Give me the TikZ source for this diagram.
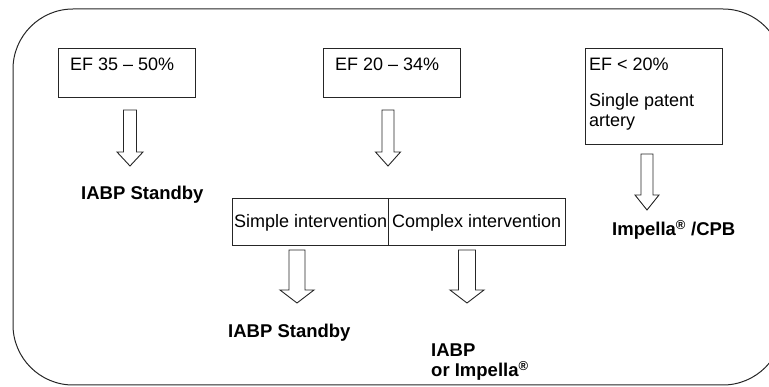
\documentclass[tikz,border=0pt]{standalone}
\usepackage{fontspec}
\setmainfont{Liberation Sans}
\begin{document}
\begin{tikzpicture}[x=1pt,y=-1pt,
  frame/.style={draw=black!85,line width=1pt},
  boxline/.style={draw=black!85,line width=0.9pt},
  txt/.style={anchor=base west,inner sep=0pt,font=\fontsize{18}{20}\selectfont},
  btxt/.style={anchor=base west,inner sep=0pt,font=\fontsize{18.5}{20}\selectfont\bfseries},
  blockarrow/.style={draw=black!85,line width=0.9pt,fill=white,line join=miter}]
\useasboundingbox (0,0) rectangle (769,387);
% outer frame with quarter-circle corners, its right side running past the page edge
\begin{scope}
\clip (0,0) rectangle (769,387);
\draw[frame] (13,69) .. controls (13,36) and (40,9) .. (73,9)
  -- (723,9) .. controls (756,9) and (783,36) .. (783,69)
  -- (783,325) .. controls (783,358) and (756,385) .. (723,385)
  -- (73,385) .. controls (40,385) and (13,358) .. (13,325) -- cycle;
\end{scope}

% ejection fraction boxes
\draw[boxline] (58,48) rectangle (195,97);
\node[txt] (ef1) at (70,71) {EF 35 -- 50\%};
\draw[boxline] (323,48) rectangle (460,97);
\node[txt] (ef2) at (335,71) {EF 20 -- 34\%};
\draw[boxline] (585,48) rectangle (722,144);
\node[txt] (ef3) at (589,71) {EF < 20\%};
\node[txt] (sp) at (589,107) {Single patent};
\node[txt] (ar) at (589,127) {artery};

% intervention split box
\draw[boxline] (232,198) rectangle (565,245);
\draw[boxline] (388,198) -- (388,245);
\node[txt] (simple) at (234,228) {Simple intervention};
\node[txt] (complex) at (392,228) {Complex intervention};

% hollow block arrows: centre x, top y, head y, tip y, shaft half width, head half width
\newcommand{\blockarrow}[6]{%
  \draw[blockarrow] (#1-#5,#2) -- (#1+#5,#2) -- (#1+#5,#3) -- (#1+#6,#3)
    -- (#1,#4) -- (#1-#6,#3) -- (#1-#5,#3) -- cycle;}
\blockarrow{130}{110}{152}{166}{6.5}{13}
\blockarrow{388}{110}{152}{166}{6}{12.5}
\blockarrow{647}{154}{195}{210}{6}{12}
\blockarrow{297}{250}{290}{303}{8}{17}
\blockarrow{467}{250}{290}{303}{8.5}{17}

% outcomes
\node[btxt] (o1) at (81,200) {IABP Standby};
\node[btxt] (o2) at (228,338) {IABP Standby};
\node[btxt] (o3a) at (431,357) {IABP};
\node[btxt] (o3b) at (431,377) {or Impella\textsuperscript{\textregistered}};
\node[btxt] (o4) at (612,236) {Impella\textsuperscript{\textregistered} /CPB};
\end{tikzpicture}
\end{document}
